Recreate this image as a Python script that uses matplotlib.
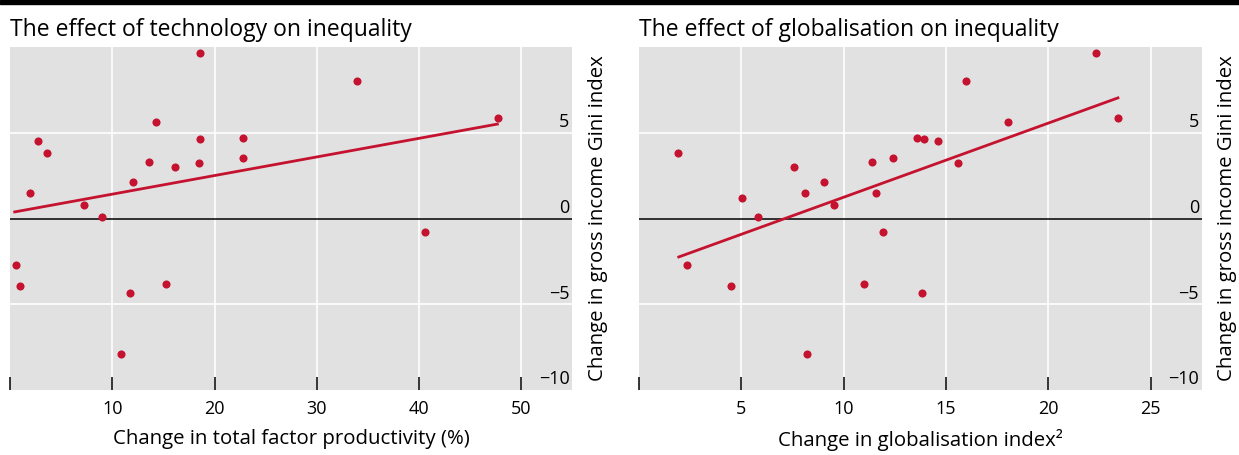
import matplotlib
matplotlib.use("Agg")
import matplotlib.pyplot as plt
from matplotlib.patches import Rectangle
from matplotlib.transforms import blended_transform_factory, ScaledTranslation

plt.rcParams['font.family'] = ['Open Sans', 'DejaVu Sans']

# left panel: change in total factor productivity (%) vs change in Gini
tfp_change = [18.6, 33.9, 47.7, 14.3, 2.7, 18.6, 22.8, 3.6, 13.6, 16.1, 18.5,
              22.8, 12.0, 1.9, 7.26, 8.96, 40.6, 0.55, 0.93, 11.75, 15.25, 10.8]
gini_tech = [9.63, 8.02, 5.88, 5.62, 4.49, 4.61, 4.71, 3.81, 3.31, 3.02, 3.21,
             3.52, 2.10, 1.48, 0.78, 0.07, -0.80, -2.72, -3.93, -4.34, -3.80, -7.91]

# right panel: change in globalisation index vs change in Gini
glob_change = [22.31, 15.99, 23.39, 18.04, 13.60, 13.93, 14.60, 1.90, 11.37, 12.41,
               15.60, 7.56, 9.02, 8.12, 11.60, 5.04, 9.54, 5.81, 2.35, 4.52,
               11.93, 10.98, 13.83, 8.19]
gini_glob = [9.63, 8.02, 5.88, 5.62, 4.69, 4.61, 4.49, 3.81, 3.31, 3.52,
             3.21, 3.02, 2.10, 1.50, 1.50, 1.21, 0.80, 0.10, -2.69, -3.91,
             -0.79, -3.80, -4.32, -7.91]

# fitted lines (end points)
tech_fit_x = [0.3, 47.8]
tech_fit_y = [0.37, 5.52]
glob_fit_x = [1.88, 23.47]
glob_fit_y = [-2.27, 7.06]

tech_xticks = [0, 10, 20, 30, 40, 50]
glob_xticks = [0, 5, 10, 15, 20, 25]
gini_ticks = [5, 0, -5, -10]
gini_labels = ['5', '0', '\u22125', '\u221210']

RED = '#c4122f'
BG = '#e1e1e1'
W, H = 1239, 455

fig = plt.figure(figsize=(W / 100, H / 100), dpi=100)
fig.patches.append(Rectangle((0, 1 - 3.5 / H), 1, 3.5 / H, transform=fig.transFigure,
                             color='black', zorder=10))


def panel(rect, x, y, fx, fy, xmax, xticks, title, xlabel):
    ax = fig.add_axes(rect)
    ax.set_facecolor(BG)
    ax.set_xlim(0, xmax)
    ax.set_ylim(-10, 10)
    for s in ax.spines.values():
        s.set_visible(False)
    ax.set_xticks(xticks)
    ax.set_xticklabels(['' if t == 0 else str(t) for t in xticks])
    ax.tick_params(axis='x', direction='in', length=9.4, width=1.1, color='black',
                   pad=7, labelsize=13)
    ax.set_yticks([])
    for t in xticks[1:]:
        ax.axvline(t, color='white', lw=1.2, zorder=1)
    for t in gini_ticks:
        if t not in (0, -10):
            ax.axhline(t, color='white', lw=1.2, zorder=1)
    ax.axhline(0, color='black', lw=1.1, zorder=2)
    ax.plot(fx, fy, color=RED, lw=2, zorder=3, solid_capstyle='butt')
    ax.scatter(x, y, s=34, color=RED, zorder=4, linewidths=0)
    tr = blended_transform_factory(ax.transAxes, ax.transData) + \
        ScaledTranslation(-2 / 72, 4 / 72, fig.dpi_scale_trans)
    for v, lab in zip(gini_ticks, gini_labels):
        ax.text(1, v, lab, transform=tr, ha='right', va='baseline', fontsize=13, zorder=5)
    ax.set_title(title, loc='left', fontsize=16.45, pad=8)
    ax.set_xlabel(xlabel, fontsize=14.7, labelpad=8)
    ax.yaxis.set_label_position('right')
    ax.set_ylabel('Change in gross income Gini index', fontsize=14.7, labelpad=11)
    return ax


bottom = 65 / H
height = 343 / H
panel([10.3 / W, bottom, 562 / W, height], tfp_change, gini_tech, tech_fit_x, tech_fit_y,
      55, tech_xticks, 'The effect of technology on inequality',
      'Change in total factor productivity (%)')
panel([639 / W, bottom, 562.7 / W, height], glob_change, gini_glob, glob_fit_x, glob_fit_y,
      27.5, glob_xticks, 'The effect of globalisation on inequality',
      'Change in globalisation index\u00b2')

fig.savefig('out.png', dpi=100)
